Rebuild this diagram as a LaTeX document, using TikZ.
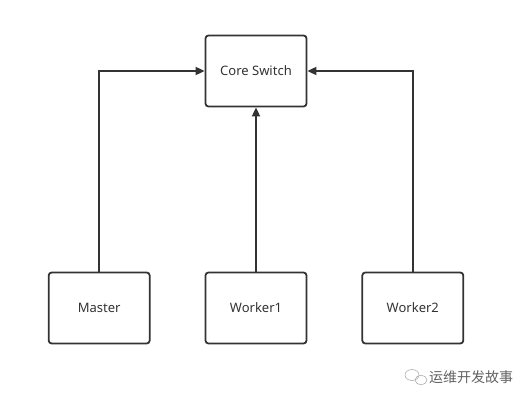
\documentclass[tikz,border=0pt]{standalone}
\usepackage{fontspec}
\setmainfont{Noto Sans}
\newfontfamily\cjk{Noto Sans CJK SC}
\usetikzlibrary{positioning, arrows.meta}
\definecolor{linegray}{HTML}{333333}
\definecolor{markgray}{HTML}{606060}

\begin{document}
\begin{tikzpicture}[
    x=1pt, y=1pt,
    node distance=54pt,
    box/.style={rectangle, draw=linegray, line width=1.8pt, rounded corners=3pt,
        minimum width=101pt, minimum height=71pt, text=linegray,
        font=\fontsize{13}{15}\selectfont},
    link/.style={draw=linegray, line width=1.8pt, -{Triangle[length=9pt, width=8pt]}}
]
\useasboundingbox (0,0) rectangle (525,-401);

\node[box] (core) at (256,-71) {Core Switch};
\node[box] (worker1) at (256,-308) {Worker1};
\node[box] (master) [left=of worker1] {Master};
\node[box] (worker2) [right=of worker1] {Worker2};

\draw[link] (master.north) |- (core.west);
\draw[link] (worker1) -- (core);
\draw[link] (worker2.north) |- (core.east);

% watermark
\draw[markgray!50, line width=0.6pt] (412,-375) ellipse (7pt and 5.5pt);
\draw[markgray!50, line width=0.6pt] (421,-380) ellipse (6pt and 4.5pt);
\node[text=markgray, font=\fontsize{14}{16}\selectfont\cjk] (mark) at (471,-377) {运维开发故事};
\end{tikzpicture}
\end{document}
